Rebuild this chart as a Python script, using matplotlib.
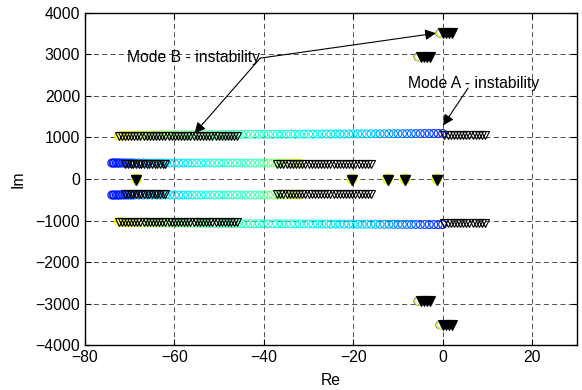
import numpy as np
import matplotlib
matplotlib.use("Agg")
import matplotlib.pyplot as plt

plt.rcParams['font.family'] = ['Liberation Sans', 'DejaVu Sans']
plt.rcParams['font.size'] = 11.3

# mode A branch (near +/-1080), circles coloured by gain
re_a = [-72.5, -72.0, -71.5, -71.0, -70.5, -70.0,
        -69.0, -68.0, -67.0, -66.0, -65.0, -64.0, -63.0, -62.0, -61.0, -60.0,
        -59.0, -58.0, -57.0, -56.0, -55.0, -54.0, -53.0, -52.0, -51.0, -50.0, -49.0, -48.0, -47.0, -46.0,
        -45.0, -44.0, -43.0, -42.0, -41.0, -40.0, -39.0, -38.0, -37.0, -36.0, -35.0, -34.0, -33.0,
        -32.0, -31.0, -30.0, -29.0, -28.0, -27.0, -26.0, -25.0, -24.0, -23.0, -22.0, -21.0, -20.0,
        -19.0, -18.0, -17.0, -16.0, -15.0, -14.0, -13.0, -12.0, -11.0, -10.0,
        -9.0, -8.0, -7.0, -6.0, -5.0, -4.0, -3.0, -2.0, -1.0, 0.0]
im_a = [1030, 1035, 1040, 1042, 1045, 1048,
        1050, 1052, 1054, 1056, 1058, 1060, 1061, 1062, 1063, 1064,
        1065, 1066, 1066, 1067, 1068, 1068, 1069, 1070, 1070, 1071, 1072, 1072, 1073, 1074,
        1074, 1075, 1075, 1076, 1076, 1077, 1077, 1078, 1078, 1079, 1079, 1080, 1080,
        1081, 1081, 1082, 1082, 1083, 1083, 1084, 1084, 1085, 1085, 1086, 1086, 1087,
        1087, 1088, 1088, 1089, 1089, 1090, 1090, 1091, 1091, 1092,
        1092, 1093, 1093, 1094, 1094, 1095, 1095, 1096, 1096, 1097]
k_a = [0.66, 0.655, 0.65, 0.645, 0.64, 0.635,
       0.62, 0.60, 0.585, 0.57, 0.555, 0.54, 0.53, 0.52, 0.51, 0.50,
       0.495, 0.49, 0.485, 0.48, 0.475, 0.47, 0.465, 0.46, 0.455, 0.45, 0.445, 0.44, 0.435, 0.43,
       0.425, 0.42, 0.415, 0.41, 0.405, 0.40, 0.397, 0.394, 0.391, 0.388, 0.385, 0.382, 0.379,
       0.376, 0.373, 0.370, 0.367, 0.364, 0.361, 0.358, 0.355, 0.352, 0.349, 0.346, 0.343, 0.340,
       0.335, 0.33, 0.325, 0.32, 0.31, 0.30, 0.29, 0.28, 0.27, 0.26,
       0.25, 0.24, 0.23, 0.22, 0.21, 0.20, 0.19, 0.18, 0.17, 0.16]

# mode B branch (near +/-385)
re_b = [-74.0, -73.7, -73.4, -73.0, -72.7, -72.4, -72.0, -71.5, -71.0, -70.5, -70.0, -69.5, -69.0,
        -68.0, -67.0, -66.0, -65.0, -64.0, -63.0, -62.0,
        -61.0, -60.0, -59.0, -58.0, -57.0, -56.0, -55.0, -54.0, -53.0, -52.0, -51.0,
        -50.0, -49.0, -48.0, -47.0, -46.0, -45.0, -44.0, -43.0, -42.0, -41.0,
        -40.0, -39.0, -38.0, -37.0, -36.0, -35.0, -34.0, -33.0, -32.0]
im_b = 385
k_b = [0.14, 0.142, 0.145, 0.148, 0.15, 0.153, 0.155, 0.16, 0.17, 0.18, 0.19, 0.20, 0.22,
       0.24, 0.26, 0.28, 0.295, 0.31, 0.32, 0.33,
       0.335, 0.34, 0.345, 0.35, 0.355, 0.36, 0.365, 0.37, 0.375, 0.38, 0.385,
       0.39, 0.395, 0.40, 0.405, 0.41, 0.415, 0.42, 0.425, 0.43, 0.44,
       0.46, 0.48, 0.50, 0.52, 0.54, 0.56, 0.58, 0.60, 0.62]

# triangles (second system)
tri_a_left = [-72.5, -71.8, -71.1, -70.4, -69.7, -69.0, -68.3, -67.6, -66.9, -66.2,
              -65.5, -64.8, -64.1, -63.4, -62.7, -62.0, -61.3, -60.6, -59.9, -59.2,
              -58.5, -57.8, -57.1, -56.4, -55.7, -55.0, -54.3, -53.6, -52.9, -52.2,
              -51.5, -50.8, -50.1, -49.4, -48.7, -48.0, -47.3, -46.6, -46.0]
tri_a_left_im = 1025
tri_a_right = [0.4, 1.1, 1.8, 2.5, 3.2, 3.9, 4.6, 5.3, 6.0, 6.7, 7.4, 8.1, 8.8, 9.5]
tri_a_right_im = 1070
tri_b_left = [-71.0, -70.4, -69.8, -69.2, -68.6, -68.0, -67.4, -66.8, -66.2, -65.6,
              -65.0, -64.4, -63.8, -63.2, -62.6, -62.0]
tri_b_right = [-37.0, -36.3, -35.6, -34.9, -34.2, -33.5, -32.8, -32.1, -31.4, -30.7,
               -30.0, -29.3, -28.6, -27.9, -27.2, -26.5, -25.8, -25.1, -24.4, -23.7,
               -23.0, -22.3, -21.6, -20.9, -20.2, -19.5, -18.8, -18.1, -17.4, -16.7, -16.0]
tri_b_im = 350

# real poles
real_re = [-68.5, -20.3, -12.3, -8.4, -1.3]
real_tri_im = -30
real_circ_im = 10

# high frequency pairs
hi_tri_re = [0.0, 0.7, 1.4, 2.1]
hi_im = 3510
hi_circ_re = [-0.6, -0.5]
mid_tri_re = [-4.9, -4.2, -3.5, -2.8]
mid_im = 2940
mid_circ_re = [-5.5, -5.4]
cl_k = [0.15, 0.62]

cmap = plt.get_cmap('jet')

fig = plt.figure(figsize=(5.82, 3.9), dpi=100)
ax = fig.add_axes([0.146, 0.115, 0.845, 0.852])

for s in (1, -1):
    ax.scatter(re_a, np.array(im_a) * s, s=32, facecolors='none',
               edgecolors=cmap(np.array(k_a)), linewidths=0.8, zorder=2)
    ax.scatter(re_b, np.full(len(re_b), im_b * s), s=32, facecolors='none',
               edgecolors=cmap(np.array(k_b)), linewidths=0.8, zorder=2)
    ax.scatter(real_re, np.full(len(real_re), real_circ_im * s), s=40, facecolors='none',
               edgecolors=cmap(0.62), linewidths=1.2, zorder=2)
    ax.scatter(hi_circ_re, np.full(2, hi_im * s), s=30, facecolors='none',
               edgecolors=cmap(np.array(cl_k)), linewidths=1.0, zorder=2)
    ax.scatter(mid_circ_re, np.full(2, mid_im * s), s=30, facecolors='none',
               edgecolors=cmap(np.array(cl_k)), linewidths=1.0, zorder=2)

    tri = dict(linestyle='none', marker='v', ms=5.5, mfc='none', mec='k', mew=0.8, zorder=3)
    ax.plot(tri_a_left, np.full(len(tri_a_left), tri_a_left_im * s), **tri)
    ax.plot(tri_a_right, np.full(len(tri_a_right), tri_a_right_im * s), **tri)
    ax.plot(tri_b_left, np.full(len(tri_b_left), tri_b_im * s), **tri)
    ax.plot(tri_b_right, np.full(len(tri_b_right), tri_b_im * s), **tri)

    filled = dict(linestyle='none', marker='v', ms=7, mfc='k', mec='k', mew=0.8, zorder=3)
    ax.plot(hi_tri_re, np.full(len(hi_tri_re), hi_im * s), **filled)
    ax.plot(mid_tri_re, np.full(len(mid_tri_re), mid_im * s), **filled)

ax.plot(real_re, np.full(len(real_re), real_tri_im), linestyle='none', marker='v', ms=7.5,
        mfc='k', mec='k', zorder=3)

ax.set_xlim(-80, 30)
ax.set_ylim(-4000, 4000)
ax.set_xticks([-80, -60, -40, -20, 0, 20])
ax.set_yticks(range(-4000, 4001, 1000))
ax.grid(True, linestyle=(0, (6, 4)), color='0.2', linewidth=0.6)
ax.tick_params(direction='in', top=True, right=True, length=4, width=0.8)
for sp in ax.spines.values():
    sp.set_linewidth(1.0)
ax.set_xlabel('Re', labelpad=6)
ax.set_ylabel('Im', labelpad=7)

arr = dict(arrowstyle='-|>', mutation_scale=16, lw=0.8, color='k', shrinkA=0, shrinkB=0)
ax.text(-70.6, 2930, 'Mode B - instability', ha='left', va='center', zorder=5)
ax.annotate('', xy=(-1.5, 3510), xytext=(-40.8, 2910), arrowprops=arr)
ax.annotate('', xy=(-55.5, 1100), xytext=(-40.8, 2910), arrowprops=arr)
ax.text(-7.7, 2310, 'Mode A - instability', ha='left', va='center', zorder=5)
ax.annotate('', xy=(0.1, 1290), xytext=(5.7, 2190), arrowprops=arr)

fig.savefig('out.png', dpi=100)
